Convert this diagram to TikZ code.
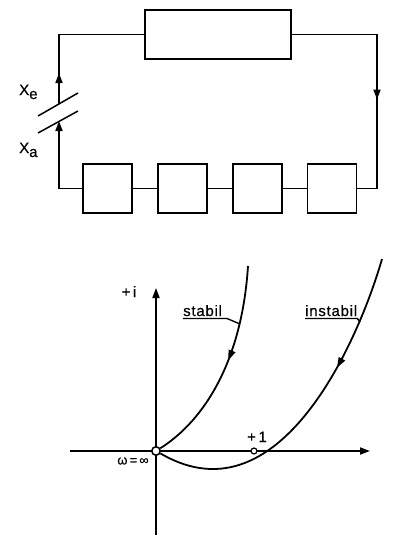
\documentclass[tikz,border=0pt]{standalone}
\usepackage{fontspec}
\setmainfont{Liberation Sans}
\usetikzlibrary{arrows.meta, positioning, decorations.markings}

\begin{document}
\begin{tikzpicture}[x=1pt, y=-1pt,
      node distance=24pt,
      block/.style={draw, line width=1.8pt, minimum width=49pt, minimum height=49pt, inner sep=0pt},
      wire/.style={line width=1.8pt},
      flow/.style={wire, -{Triangle[length=10pt, width=7pt]}},
      midarrow/.style={wire, postaction={decorate},
                       decoration={markings, mark=at position #1 with {\arrow{Triangle[length=10pt, width=7pt]}}}},
      lbl/.style={font={\fontsize{15}{15}\selectfont\addfontfeature{LetterSpace=5, FakeBold=0.4}}, inner sep=0pt},
      spot/.style={circle, draw, fill=white, line width=1.5pt, inner sep=0pt}]
    \useasboundingbox (0,0) rectangle (392,535);
    % control loop
    \node[block, minimum width=146pt] (fwd) at (218,34.5) {};
    \node[block] (b1) at (107.5,188.5) {};
    \node[block, right=of b1] (b2) {};
    \node[block, right=of b2] (b3) {};
    \node[block, right=of b3] (b4) {};
    \coordinate (xa) at (59,121);
    \coordinate (xe) at (59,104);
    \coordinate (rc) at (377,188.5);
    \node[lbl, anchor=base west] (lxe) at (19,95) {X\raisebox{-4pt}{e}};
    \node[lbl, anchor=base west] (lxa) at (19,153) {X\raisebox{-4pt}{a}};
    % open loop cut
    \draw[wire, line width=1.5pt] (38,116) -- (78,93);
    \draw[wire, line width=1.5pt] (38,133) -- (78,111);
    % edges
    \draw[midarrow=0.58] (fwd.east) -| (rc) -- (b4.east);
    \draw[wire] (b4) -- (b3);
    \draw[wire] (b3) -- (b2);
    \draw[wire] (b2) -- (b1);
    \draw[flow] (b1.west) -| (xa);
    \draw[midarrow=0.2] (xe) |- (fwd.west);
    % Nyquist plot
    \coordinate (xl) at (70,451);
    \coordinate (xr) at (370,451);
    \coordinate (yb) at (156,535);
    \coordinate (yt) at (156,288);
    \draw[flow] (xl) -- (xr);
    \draw[flow] (yb) -- (yt);
    \node[spot, minimum size=8.5pt] (o) at (156,451) {};
    \node[spot, minimum size=6pt, line width=1.2pt] (one) at (254,451) {};
    \coordinate (sTop) at (248,266);
    \coordinate (iTop) at (382,259);
    \draw[midarrow=0.46] (sTop) .. controls (242,360) and (205,420) .. (o);
    \draw[midarrow=0.345] (iTop) .. controls (360,335) and (300,469) .. (213,469)
        .. controls (190,469) and (172,460) .. (o);
    \node[lbl, anchor=base west] (stab) at (183,316) {stabil};
    \node[lbl, anchor=base west] (instab) at (305,316) {instabil};
    \coordinate (sLead) at (240,324);
    \coordinate (iLead) at (360,322);
    \draw[wire, line width=1.4pt] ([yshift=-2.5pt]stab.base west) -- ++(44,0) -- (sLead);
    \draw[wire, line width=1.4pt] ([yshift=-2.5pt]instab.base west) -- ([yshift=-2.5pt]instab.base east) -- (iLead);
    \node[lbl, anchor=base] (li) at (129,297) {+\,i};
    \node[lbl, anchor=base] (l1) at (257,442) {+\,1};
    \node[lbl, font={\fontsize{13}{13}\selectfont\addfontfeature{FakeBold=0.4}}] (lw) at (133,461) {ω\,=\,∞};
  \end{tikzpicture}
\end{document}
